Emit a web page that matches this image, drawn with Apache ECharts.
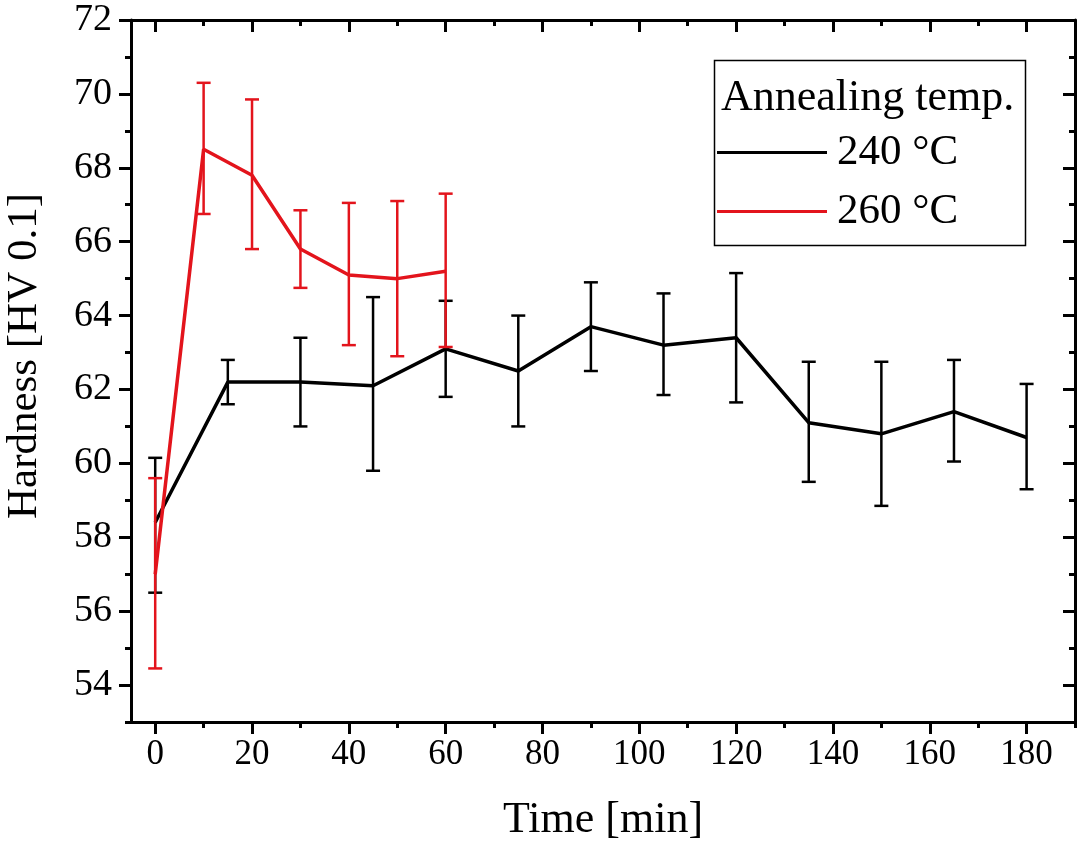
<!DOCTYPE html>
<html>
<head>
<meta charset="utf-8">
<script src="https://cdn.jsdelivr.net/npm/echarts@6/dist/echarts.min.js"></script>
<style>html,body{margin:0;padding:0;background:#fff;}#main{width:1080px;height:845px;}</style>
</head>
<body>
<div id="main"></div>
<script>
// ---- data ----
const time240 = [0, 15, 30, 45, 60, 75, 90, 105, 120, 135, 150, 165, 180];
const mean240 = [58.4, 62.2, 62.2, 62.1, 63.1, 62.5, 63.7, 63.2, 63.4, 61.1, 60.8, 61.4, 60.7];
const low240  = [56.5, 61.6, 61.0, 59.8, 61.8, 61.0, 62.5, 61.85, 61.65, 59.5, 58.85, 60.05, 59.3];
const high240 = [60.15, 62.8, 63.4, 64.5, 64.4, 64.0, 64.9, 64.6, 65.15, 62.75, 62.75, 62.8, 62.15];

const time260 = [0, 10, 20, 30, 40, 50, 60];
const mean260 = [57.0, 68.5, 67.8, 65.8, 65.1, 65.0, 65.2];
const low260  = [54.45, 66.75, 65.8, 64.75, 63.2, 62.9, 63.15];
const high260 = [59.6, 70.3, 69.85, 66.85, 67.05, 67.1, 67.3];

const xMajor = [0, 20, 40, 60, 80, 100, 120, 140, 160, 180];
const xMinor = [10, 30, 50, 70, 90, 110, 130, 150, 170, 190];
const yMajor = [54, 56, 58, 60, 62, 64, 66, 68, 70, 72];
const yMinor = [53, 55, 57, 59, 61, 63, 65, 67, 69, 71];

const seriesNames = ['240 °C', '260 °C'];
const legendTitle = 'Annealing temp.';
const xName = 'Time [min]';
const yName = 'Hardness [HV 0.1]';

// ---- chart ----
const FONT = 'Liberation Serif';
const BLACK = '#000000';
const RED = '#e3141c';
const chart = echarts.init(document.getElementById('main'), null, {renderer: 'canvas'});

function zip(a, b) { return a.map((v, i) => [v, b[i]]); }
function zip3(a, b, c) { return a.map((v, i) => [v, b[i], c[i]]); }

function errRender(color) {
  return function (params, api) {
    const x = api.value(0), lo = api.value(1), hi = api.value(2);
    const pLo = api.coord([x, lo]);
    const pHi = api.coord([x, hi]);
    const hw = 7;
    const st = {stroke: color, lineWidth: 2.5, fill: null};
    return {
      type: 'group',
      children: [
        {type: 'line', shape: {x1: pLo[0], y1: pLo[1], x2: pHi[0], y2: pHi[1]}, style: st},
        {type: 'line', shape: {x1: pLo[0] - hw, y1: pLo[1], x2: pLo[0] + hw, y2: pLo[1]}, style: st},
        {type: 'line', shape: {x1: pHi[0] - hw, y1: pHi[1], x2: pHi[0] + hw, y2: pHi[1]}, style: st}
      ]
    };
  };
}

const X_MIN = -5, X_MAX = 190, Y_MIN = 53, Y_MAX = 72;
const axisLineOn = {show: true, onZero: false, lineStyle: {color: BLACK, width: 3}};
const axisLineOff = {show: false, onZero: false};

function xAx(pos, ticks, len, inside, labels, line) {
  return {
    type: 'value', position: pos, min: X_MIN, max: X_MAX, gridIndex: 0,
    axisLine: line ? axisLineOn : axisLineOff,
    axisTick: {show: true, inside: inside, length: len, customValues: ticks, lineStyle: {color: BLACK, width: 3}},
    axisLabel: labels ? {show: true, customValues: ticks, fontFamily: FONT, fontSize: 35, color: BLACK, margin: 15} : {show: false},
    splitLine: {show: false}
  };
}
function yAx(pos, ticks, len, inside, labels, line) {
  return {
    type: 'value', position: pos, min: Y_MIN, max: Y_MAX, gridIndex: 0,
    axisLine: line ? axisLineOn : axisLineOff,
    axisTick: {show: true, inside: inside, length: len, customValues: ticks, lineStyle: {color: BLACK, width: 3}},
    axisLabel: labels ? {show: true, customValues: ticks, fontFamily: FONT, fontSize: 38, color: BLACK, margin: 19} : {show: false},
    splitLine: {show: false}
  };
}

const xAxes = [
  Object.assign(xAx('bottom', xMajor, 12, false, true, true), {
    name: xName, nameLocation: 'middle', nameGap: 76,
    nameTextStyle: {fontFamily: FONT, fontSize: 44, color: BLACK}
  }),
  xAx('bottom', xMinor, 6, false, false, false),
  xAx('top', xMajor, 12, true, false, true),
  xAx('top', xMinor, 6, true, false, false)
];
const yAxes = [
  Object.assign(yAx('left', yMajor, 12, false, true, true), {
    name: yName, nameLocation: 'middle', nameGap: 85, nameRotate: 90,
    nameTextStyle: {fontFamily: FONT, fontSize: 43, color: BLACK, padding: [0, 0, 0, 30]}
  }),
  yAx('left', yMinor, 6, false, false, false),
  yAx('right', yMajor, 12, true, false, true),
  yAx('right', yMinor, 6, true, false, false)
];

const option = {
  backgroundColor: '#ffffff',
  animation: false,
  grid: {left: 131, right: 5, top: 20, bottom: 123, containLabel: false, outerBoundsMode: 'none'},
  xAxis: xAxes,
  yAxis: yAxes,
  legend: {
    show: true,
    orient: 'vertical',
    left: 712, top: 58,
    padding: [73, 10, 10, 5],
    itemGap: 16,
    itemWidth: 110,
    itemHeight: 3,
    icon: 'rect',
    selectedMode: false,
    data: seriesNames,
    textStyle: {fontFamily: FONT, fontSize: 43, color: BLACK, padding: [0, 0, 0, 5]}
  },
  graphic: [
    {type: 'rect', left: 712, top: 58, shape: {width: 311, height: 185}, style: {fill: null, stroke: BLACK, lineWidth: 1.5}, z: 100},
    {type: 'text', left: 721, top: 76, style: {text: legendTitle, font: '44px "Liberation Serif"', fill: BLACK}, z: 100}
  ],
  series: [
    {
      type: 'custom', name: 'err240', xAxisIndex: 0, yAxisIndex: 0,
      renderItem: errRender(BLACK), data: zip3(time240, low240, high240),
      encode: {x: 0, y: [1, 2]}, z: 2
    },
    {
      type: 'line', name: seriesNames[0], xAxisIndex: 0, yAxisIndex: 0,
      data: zip(time240, mean240), symbol: 'none',
      lineStyle: {color: BLACK, width: 3.5}, itemStyle: {color: BLACK}, z: 3
    },
    {
      type: 'custom', name: 'err260', xAxisIndex: 0, yAxisIndex: 0,
      renderItem: errRender(RED), data: zip3(time260, low260, high260),
      encode: {x: 0, y: [1, 2]}, z: 4
    },
    {
      type: 'line', name: seriesNames[1], xAxisIndex: 0, yAxisIndex: 0,
      data: zip(time260, mean260), symbol: 'none',
      lineStyle: {color: RED, width: 3.5}, itemStyle: {color: RED}, z: 5
    }
  ]
};
chart.setOption(option);
</script>
</body>
</html>
